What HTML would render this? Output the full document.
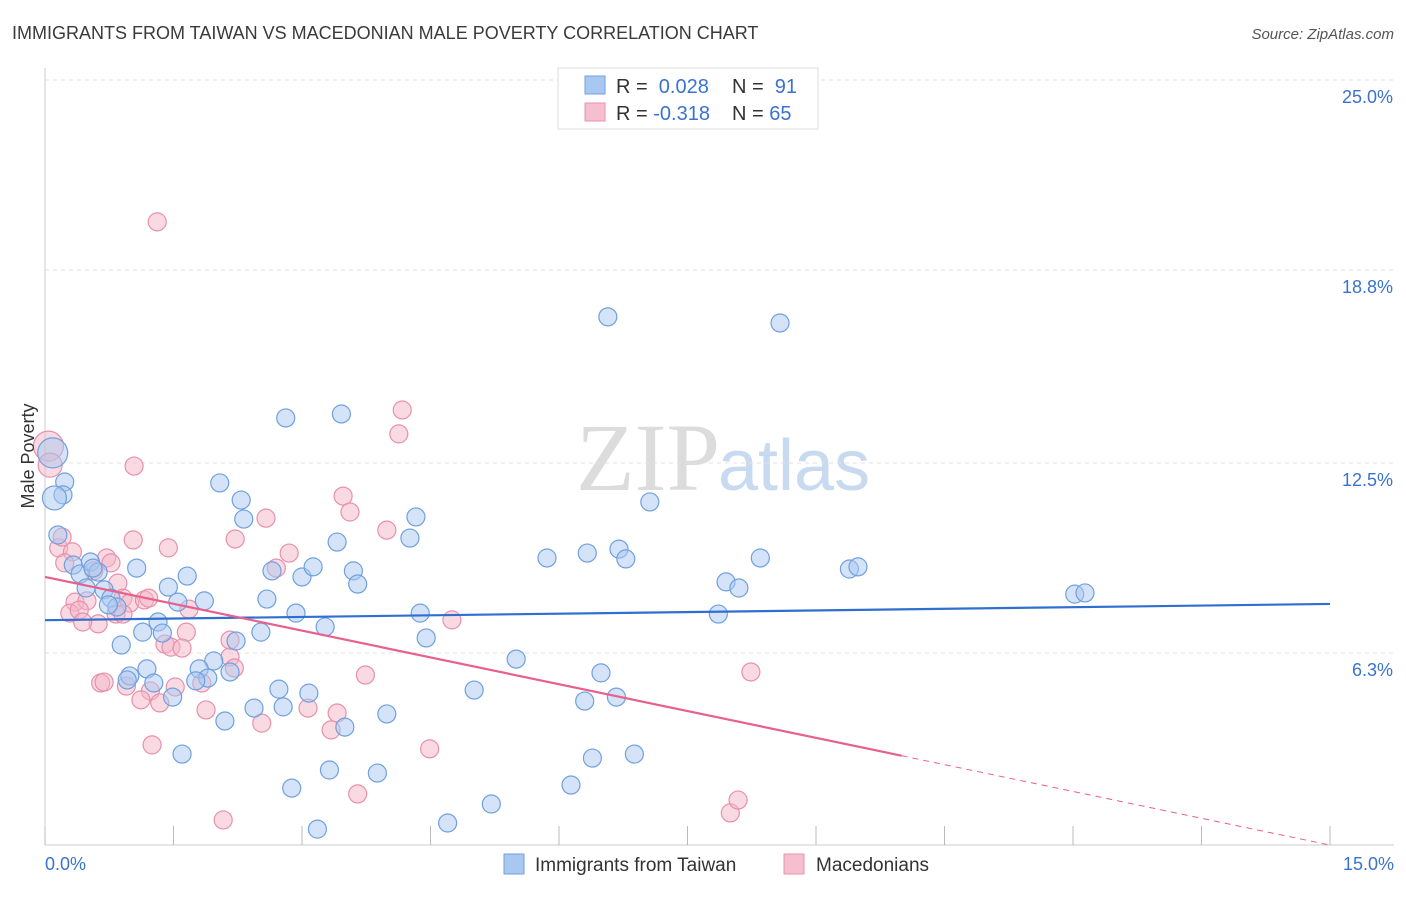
<!DOCTYPE html>
<html><head><meta charset="utf-8"><style>
body{margin:0;background:#fff;font-family:"Liberation Sans",sans-serif;}
</style></head><body>
<svg id="chart" width="1406" height="892" xmlns="http://www.w3.org/2000/svg" font-family="Liberation Sans, sans-serif">
<text x="12" y="39" font-size="18" fill="#3a3a3a">IMMIGRANTS FROM TAIWAN VS MACEDONIAN MALE POVERTY CORRELATION CHART</text>
<text x="1394" y="39" font-size="15" fill="#555" text-anchor="end" font-style="italic">Source: ZipAtlas.com</text>
<text x="720" y="490" font-size="96" fill="#dcdcdc" text-anchor="end" font-family="Liberation Serif, serif">ZIP</text>
<text x="718" y="490" font-size="72" fill="#c8daf0">atlas</text>
<g id="grid"></g>
<g id="axes"></g>
<g id="pts"></g>
<g id="lines"></g>
<text transform="translate(34,456) rotate(-90)" font-size="18" fill="#333" text-anchor="middle">Male Poverty</text>
<g>
<rect x="558" y="68" width="260" height="61" fill="#fff" stroke="#ddd"/>
<rect x="585" y="76" width="20" height="18" fill="#a9c8f0" stroke="#6fa0e0"/>
<rect x="585" y="103" width="20" height="18" fill="#f6bfd0" stroke="#e890ab"/>
<text x="616" y="93" font-size="20" fill="#333">R = <tspan fill="#3a72d0">&#160;0.028</tspan><tspan x="732">N = </tspan><tspan fill="#3a72d0">&#160;91</tspan></text>
<text x="616" y="120" font-size="20" fill="#333">R = <tspan fill="#3a72d0">-0.318</tspan><tspan x="732">N = </tspan><tspan fill="#3a72d0">65</tspan></text>
</g>
<g>
<rect x="504" y="854" width="20" height="20" fill="#a9c8f0" stroke="#6fa0e0"/>
<text x="535" y="871" font-size="19" fill="#333">Immigrants from Taiwan</text>
<rect x="784" y="854" width="20" height="20" fill="#f6bfd0" stroke="#e890ab"/>
<text x="816" y="871" font-size="19" fill="#333">Macedonians</text>
</g>
</svg>
<script>
const yTicks=[25.0,18.8,12.5,6.3];
const yTickLabels=["25.0%","18.8%","12.5%","6.3%"];
const xTicks=[0,1.5,3,4.5,6,7.5,9,10.5,12,13.5,15];
const bluePx=[[608,317],[780,323],[286,418],[341,414],[220,483],[241,500],[244,519],[650,502],[416,517],[410,538],[337,542],[547,558],[587,553],[619,549],[626,559],[760,558],[849,569],[858,567],[1075,594],[1085,593],[726,582],[739,588],[272,571],[302,577],[313,567],[353,571],[358,584],[187,576],[168,587],[137,568],[267,599],[296,613],[420,613],[718,614],[325,627],[426,638],[516,659],[204,601],[178,602],[158,622],[143,632],[162,633],[236,641],[261,632],[121,645],[214,661],[199,669],[230,672],[147,669],[130,676],[208,678],[196,681],[154,683],[127,680],[173,697],[279,689],[309,693],[474,690],[601,673],[585,701],[616,697],[254,708],[283,707],[387,714],[225,721],[345,727],[182,754],[592,758],[634,754],[329,770],[377,773],[292,788],[571,785],[491,804],[448,823],[317,829],[65,482],[63,495],[54,498],[58,535],[73,565],[80,574],[90,562],[98,572],[93,568],[86,588],[104,590],[111,598],[117,607],[108,605],[53,453]];
const pinkPx=[[157,222],[402,410],[399,434],[134,466],[343,496],[350,512],[266,518],[387,530],[235,539],[133,540],[168,548],[289,553],[276,568],[59,548],[72,552],[62,537],[107,558],[111,563],[65,563],[94,571],[118,583],[75,602],[87,601],[70,613],[79,610],[98,624],[83,622],[116,614],[123,598],[130,603],[144,600],[149,598],[189,609],[186,632],[165,644],[171,647],[182,648],[230,657],[365,675],[751,672],[101,683],[104,682],[126,686],[150,691],[141,700],[160,703],[175,687],[202,683],[206,710],[262,723],[308,708],[337,713],[331,730],[152,745],[430,749],[358,794],[223,820],[730,813],[738,800],[452,620],[48,446],[50,465],[234,668],[230,640],[123,614]];
// convert read pixel positions to data values (%)
const toX=p=>+((p-45)/85.667).toFixed(2), toY=p=>+((846-p)/30.64).toFixed(2);
const blueX=bluePx.map(p=>toX(p[0])), blueY=bluePx.map(p=>toY(p[1]));
const pinkX=pinkPx.map(p=>toX(p[0])), pinkY=pinkPx.map(p=>toY(p[1]));
const blueTrend=[7.37,7.90];
const pinkTrend=[8.78,0.03];
const pinkSolidEnd=10.0;
const X=v=>45+v*85.667, Y=v=>846-v*30.64;
const NS="http://www.w3.org/2000/svg";
function mk(tag,attrs,parent){const e=document.createElementNS(NS,tag);for(const k in attrs)e.setAttribute(k,attrs[k]);document.getElementById(parent).appendChild(e);return e;}
yTicks.forEach((t,i)=>{
 const l=mk('line',{x1:45,x2:1394,y1:Y(t),y2:Y(t),stroke:'#e2e2e2','stroke-dasharray':'4,4'},'grid');
 
 
 const tx=mk('text',{x:1393,y:Y(t)+23,'font-size':18,fill:'#3a72d0','text-anchor':'end'},'axes');
 tx.textContent=yTickLabels[i];
 
 
});
const ax=mk('line',{x1:45,x2:1394,y1:845,y2:845,stroke:'#ccc'},'axes');


const ay=mk('line',{x1:45,x2:45,y1:68,y2:845,stroke:'#ccc'},'axes');


xTicks.forEach(t=>{
 const l=mk('line',{x1:X(t),x2:X(t),y1:826,y2:845,stroke:'#bbb'},'axes');
 
 
});
const x0=mk('text',{x:45,y:870,'font-size':18,fill:'#3a72d0'},'axes');x0.textContent='0.0%';


const x1=mk('text',{x:1394,y:870,'font-size':18,fill:'#3a72d0','text-anchor':'end'},'axes');x1.textContent='15.0%';


function pts(xs,ys,fill,stroke,name){
 xs.forEach((x,i)=>{
  const big=(x<0.15 && ys[i]>11)?(ys[i]>12.5?15:12):9;
  const c=mk('circle',{cx:X(x),cy:Y(ys[i]),r:big,fill:fill,'fill-opacity':0.5,stroke:stroke,'stroke-width':1.2},'pts');
  
  
 });
}
pts(pinkX,pinkY,'#f4b6c8','#e890ab','macedonians-point');
pts(blueX,blueY,'#a9c8f0','#6fa0e0','taiwan-point');
const bl=mk('line',{x1:X(0),y1:Y(blueTrend[0]),x2:X(15),y2:Y(blueTrend[1]),stroke:'#2f6fd0','stroke-width':2.2},'lines');


const py=x=>pinkTrend[0]+(pinkTrend[1]-pinkTrend[0])*x/15;
const pl=mk('line',{x1:X(0),y1:Y(py(0)),x2:X(pinkSolidEnd),y2:Y(py(pinkSolidEnd)),stroke:'#e8608d','stroke-width':2.2},'lines');


const pd=mk('line',{x1:X(pinkSolidEnd),y1:Y(py(pinkSolidEnd)),x2:X(15),y2:Y(py(15)),stroke:'#e8608d','stroke-width':1,'stroke-dasharray':'6,5'},'lines');


</script>
</body></html>
